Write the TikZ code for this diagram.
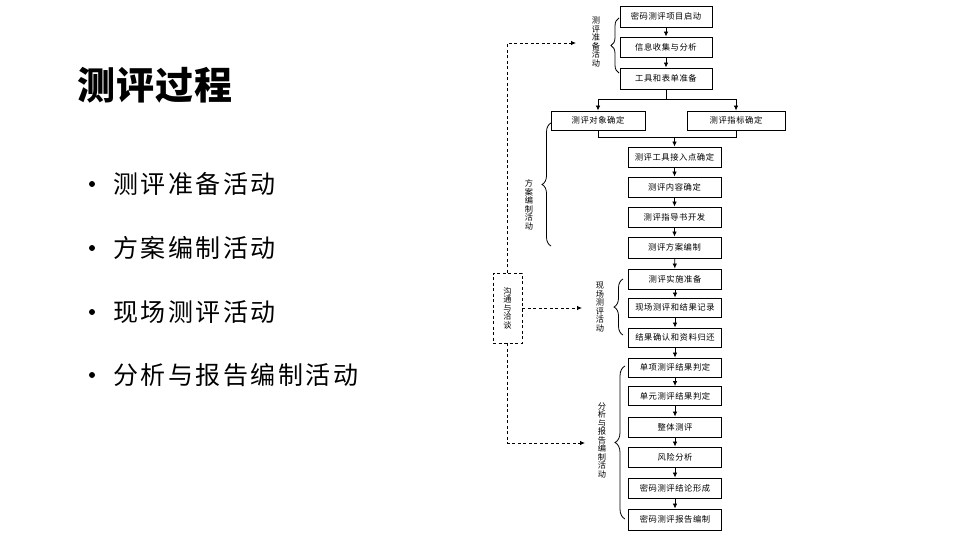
\documentclass[tikz,border=0pt]{standalone}
\usepackage{fontspec}
\setmainfont{Noto Sans CJK SC}
\newfontfamily\cjkbody[LetterSpace=10]{Noto Sans CJK SC}
\newfontfamily\cjkbox[LetterSpace=7]{Noto Sans CJK SC}
\newfontfamily\cjktitle[LetterSpace=3]{Noto Sans CJK SC}
\usetikzlibrary{arrows.meta,decorations.pathreplacing,calc}
\begin{document}
\begin{tikzpicture}[x=1pt,y=-1pt,
  stepbox/.style={draw=black,line width=0.9pt,minimum width=93pt,minimum height=20pt,inner sep=0pt,font=\cjkbox\fontsize{8.3}{9}\selectfont},
  arr/.style={line width=0.8pt,-{Latex[length=5pt,width=4.5pt]}},
  con/.style={line width=0.8pt},
  dsh/.style={line width=0.8pt,dash pattern=on 3pt off 2.5pt,-{Latex[length=5pt,width=4.5pt]}},
  brc/.style={line width=0.8pt,decorate,decoration={brace,amplitude=#1}},
  vlab/.style={align=center,inner sep=0pt,font=\fontsize{8.2}{8.5}\selectfont},
  item/.style={anchor=west,inner sep=0pt,font=\cjkbody\fontsize{25}{27}\selectfont}]
\useasboundingbox (0,0) rectangle (960,540);
\fill[white] (0,0) rectangle (960,540);
% left text
\node[anchor=west,inner sep=0pt,font=\cjktitle\bfseries\fontsize{38}{40}\selectfont] (title) at (77,85) {测评过程};
\foreach \yy/\tx/\nm in {184/测评准备活动/i1,248/方案编制活动/i2,312/现场测评活动/i3,375/分析与报告编制活动/i4}{
  \fill (92,\yy) circle (3pt);
  \node[item] (\nm) at (113,\yy) {\tx};
}
% boxes
\node[stepbox,minimum width=92pt,minimum height=21pt] (b1) at (666,16.5) {密码测评项目启动};
\node[stepbox,minimum width=92pt] (b2) at (666,47) {信息收集与分析};
\node[stepbox,minimum width=92pt,minimum height=21pt] (b3) at (666,78.5) {工具和表单准备};
\node[stepbox,minimum width=94pt,minimum height=19pt] (L) at (598,120.5) {测评对象确定};
\node[stepbox,minimum width=98pt,minimum height=19pt] (R) at (736,120.5) {测评指标确定};
\node[stepbox] (b4) at (674.5,157) {测评工具接入点确定};
\node[stepbox] (b5) at (674.5,187) {测评内容确定};
\node[stepbox] (b6) at (674.5,217) {测评指导书开发};
\node[stepbox,minimum height=21pt] (b7) at (674.5,247.5) {测评方案编制};
\node[stepbox] (b8) at (675,279) {测评实施准备};
\node[stepbox,minimum height=19pt] (b9) at (675,307.5) {现场测评和结果记录};
\node[stepbox,minimum height=19pt] (b10) at (675,337.5) {结果确认和资料归还};
\node[stepbox,minimum height=19pt] (b11) at (675,367.5) {单项测评结果判定};
\node[stepbox,minimum height=19pt] (b12) at (675,396) {单元测评结果判定};
\node[stepbox] (b13) at (675,427) {整体测评};
\node[stepbox] (b14) at (675,457) {风险分析};
\node[stepbox] (b15) at (675,488) {密码测评结论形成};
\node[stepbox,minimum height=21pt] (b16) at (675,519.5) {密码测评报告编制};
% arrows
\draw[arr] (b1) -- (b2);
\draw[arr] (b2) -- (b3);
\coordinate (s) at (666,99);
\draw[con] (b3.south) -- (s);
\draw[arr] (s) -| (L.north);
\draw[arr] (s) -| (R.north);
\coordinate (m) at (674.5,137);
\draw[con] (L.south) |- (m);
\draw[con] (R.south) |- (m);
\draw[arr] (m) -- (b4.north);
\draw[arr] (b4) -- (b5);
\draw[arr] (b5) -- (b6);
\draw[arr] (b6) -- (b7);
\draw[arr] (b7) -- (b8);
\draw[arr] (b8) -- (b9);
\draw[arr] (b9) -- (b10);
\draw[arr] (b10) -- (b11);
\draw[arr] (b11) -- (b12);
\draw[arr] (b12) -- (b13);
\draw[arr] (b13) -- (b14);
\draw[arr] (b14) -- (b15);
\draw[arr] (b15) -- (b16);
% communication box
\node[draw=black,line width=0.8pt,dash pattern=on 3pt off 2.5pt,minimum width=29pt,minimum height=70pt,inner sep=0pt] (comm) at (507.5,308) {};
\node[vlab] (commt) at (comm.center) {沟\\通\\与\\洽\\谈};
\coordinate (dtop) at (576,43);
\coordinate (dmid) at (582,308);
\coordinate (dbot) at (585,443);
\draw[dsh] (comm.north) |- (dtop);
\draw[dsh] (comm.east) -- (dmid);
\draw[dsh] (comm.south) |- (dbot);
% braces
\draw[brc=8pt] (619,73) -- (619,18);
\draw[brc=9pt] (551,246) -- (551,123);
\draw[brc=9pt] (623,335) -- (623,279);
\draw[brc=10pt] (625,519) -- (625,366);
\node[vlab] (l1) at (596,42) {测\\评\\准\\备\\活\\动};
\node[vlab] (l2) at (529,205) {方\\案\\编\\制\\活\\动};
\node[vlab] (l3) at (600,307) {现\\场\\测\\评\\活\\动};
\node[vlab] (l4) at (602,440) {分\\析\\与\\报\\告\\编\\制\\活\\动};
\end{tikzpicture}
\end{document}
